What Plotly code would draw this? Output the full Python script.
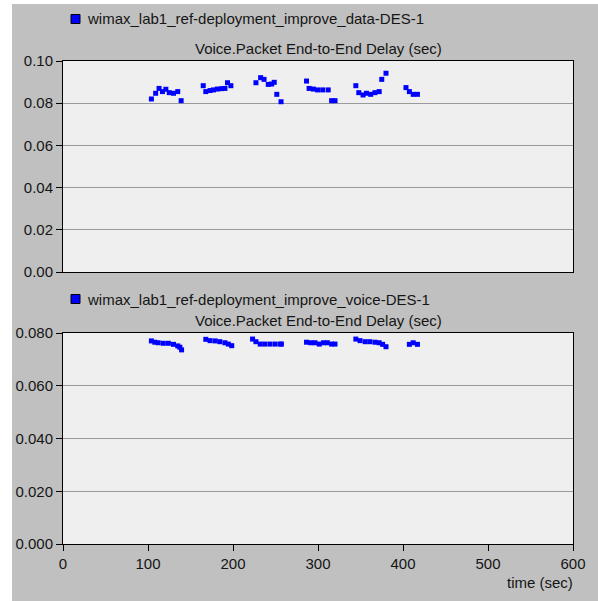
import plotly.graph_objects as go

# ---- data ----
data_time = [104, 109, 113, 117, 121, 125, 130, 135, 139,
             165, 168, 173, 177, 181.5, 186.5, 190.5, 193.5, 197.5,
             227, 232.5, 236.5, 241.5, 245.5, 248.5, 251.5, 256.5,
             286.5, 289.5, 294.5, 299.5, 305.5, 312, 316, 320,
             344.5, 348, 353, 357, 362, 367, 372, 375, 380,
             403.5, 407.5, 412, 417]
data_delay = [0.0820, 0.0847, 0.0870, 0.0855, 0.0866, 0.0850, 0.0847, 0.0855, 0.0812,
              0.0883, 0.0855, 0.0860, 0.0863, 0.0867, 0.0869, 0.0870, 0.0897, 0.0883,
              0.0897, 0.0921, 0.0913, 0.0889, 0.0891, 0.0899, 0.0842, 0.0807,
              0.0905, 0.0870, 0.0867, 0.0863, 0.0863, 0.0863, 0.0812, 0.0812,
              0.0883, 0.0850, 0.0839, 0.0847, 0.0842, 0.0850, 0.0855, 0.0913, 0.0942,
              0.0874, 0.0855, 0.0842, 0.0842]

voice_time = [104, 108, 112, 118, 124, 130, 135, 137.5, 139.5,
              168, 173, 179, 184.5, 190.5, 194.5, 198.5,
              223, 227, 232, 237.5, 243.5, 249.5, 255.5, 257,
              286.5, 291.5, 296.5, 301.5, 306.5, 311, 316, 320,
              344.5, 349.5, 355.5, 361, 367, 372, 376, 380,
              407.5, 412, 417]
voice_delay = [0.0770, 0.0765, 0.0763, 0.0761, 0.0761, 0.0757, 0.0751, 0.0746, 0.0736,
               0.0776, 0.0771, 0.0770, 0.0767, 0.0763, 0.0758, 0.0752,
               0.0777, 0.0767, 0.0758, 0.0758, 0.0758, 0.0758, 0.0758, 0.0758,
               0.0765, 0.0763, 0.0763, 0.0758, 0.0763, 0.0763, 0.0758, 0.0758,
               0.0777, 0.0771, 0.0767, 0.0767, 0.0765, 0.0763, 0.0757, 0.0748,
               0.0757, 0.0763, 0.0757]

x_ticks = [0, 100, 200, 300, 400, 500, 600]
top_y_ticks = [0.00, 0.02, 0.04, 0.06, 0.08, 0.10]
bot_y_ticks = [0.000, 0.020, 0.040, 0.060, 0.080]

title_text = "Voice.Packet End-to-End Delay (sec)"
legend_top = "wimax_lab1_ref-deployment_improve_data-DES-1"
legend_bot = "wimax_lab1_ref-deployment_improve_voice-DES-1"

# ---- layout helpers ----
W, H = 598, 601
def px(x):
    return x / W
def py(y):
    return 1 - y / H

FONT = "Liberation Sans, Arial, sans-serif"
BLUE = "#0000ff"
TXT = "#151515"

fig = go.Figure()
fig.add_trace(go.Scatter(x=data_time, y=data_delay, mode="markers",
                         marker=dict(symbol="square", size=5, color=BLUE, line=dict(width=0)),
                         xaxis="x", yaxis="y", name=legend_top))
fig.add_trace(go.Scatter(x=voice_time, y=voice_delay, mode="markers",
                         marker=dict(symbol="square", size=5, color=BLUE, line=dict(width=0)),
                         xaxis="x2", yaxis="y2", name=legend_bot))

axis_common = dict(showline=True, mirror=True, linecolor="black", linewidth=1,
                   zeroline=False, automargin=False,
                   tickfont=dict(family=FONT, size=15, color=TXT))

fig.update_layout(
    template="none",
    width=W, height=H,
    margin=dict(l=0, r=0, t=0, b=0, pad=0),
    paper_bgcolor="#c0c0c0",
    plot_bgcolor="#efefef",
    showlegend=False,
    font=dict(family=FONT, size=15, color=TXT),
    xaxis=dict(domain=[px(63), px(573)], range=[0, 600], anchor="y",
               showticklabels=False, ticks="", showgrid=False, **axis_common),
    yaxis=dict(domain=[py(272), py(61)], range=[0, 0.10], anchor="x",
               tickvals=top_y_ticks, tickformat=".2f", ticks="outside", ticklen=6,
               tickcolor="black", showgrid=True, gridcolor="#9a9a9a", gridwidth=1,
               **axis_common),
    xaxis2=dict(domain=[px(63), px(573)], range=[0, 600], anchor="y2",
                tickvals=x_ticks, ticks="outside", ticklen=6, tickcolor="black",
                showgrid=False, **axis_common),
    yaxis2=dict(domain=[py(544), py(333)], range=[0, 0.08], anchor="x2",
                tickvals=bot_y_ticks, tickformat=".3f", ticks="outside", ticklen=6,
                tickcolor="black", showgrid=True, gridcolor="#9a9a9a", gridwidth=1,
                **axis_common),
)

# white margins outside the gray panel
fig.add_shape(type="rect", xref="paper", yref="paper", x0=0, x1=px(12), y0=0, y1=1,
              fillcolor="white", line=dict(width=0), layer="below")
fig.add_shape(type="rect", xref="paper", yref="paper", x0=0, x1=1, y0=py(4), y1=1,
              fillcolor="white", line=dict(width=0), layer="below")

# legend squares
for yc in (19, 299):
    fig.add_shape(type="rect", xref="paper", yref="paper",
                  x0=px(71), x1=px(80), y0=py(yc + 4.5), y1=py(yc - 4.5),
                  fillcolor=BLUE, line=dict(color="black", width=1))

annots = [
    dict(text=legend_top, x=px(85), y=py(19), xanchor="left", yanchor="middle"),
    dict(text=title_text, x=px(318), y=py(48), xanchor="center", yanchor="middle"),
    dict(text=legend_bot, x=px(85), y=py(299), xanchor="left", yanchor="middle"),
    dict(text=title_text, x=px(318), y=py(320), xanchor="center", yanchor="middle"),
    dict(text="time (sec)", x=px(575), y=py(582), xanchor="right", yanchor="middle"),
]
for a in annots:
    fig.add_annotation(xref="paper", yref="paper", showarrow=False,
                       font=dict(family=FONT, size=15, color=TXT), **a)

fig.write_html("out.html", config={"displayModeBar": False},
               post_script="document.body.style.margin='0';document.body.style.overflow='hidden';")
